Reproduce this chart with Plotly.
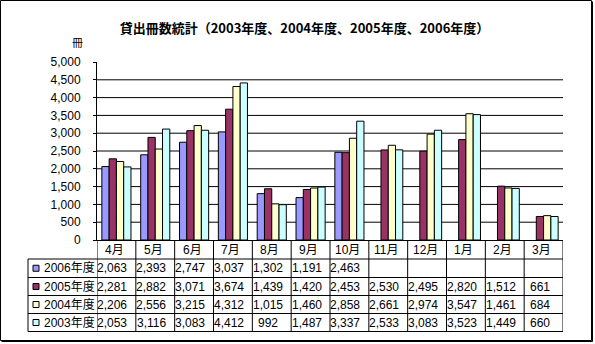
import plotly.graph_objects as go

# ---------------- data ----------------
months = ["4月", "5月", "6月", "7月", "8月", "9月", "10月", "11月", "12月", "1月", "2月", "3月"]
series_names = ["2006年度", "2005年度", "2004年度", "2003年度"]
y2006 = [2063, 2393, 2747, 3037, 1302, 1191, 2463, None, None, None, None, None]
y2005 = [2281, 2882, 3071, 3674, 1439, 1420, 2453, 2530, 2495, 2820, 1512, 661]
y2004 = [2206, 2556, 3215, 4312, 1015, 1460, 2858, 2661, 2974, 3547, 1461, 684]
y2003 = [2053, 3116, 3083, 4412, 992, 1487, 3337, 2533, 3083, 3523, 1449, 660]
colors = ["#9999FF", "#993366", "#FFFFCC", "#CCFFFF"]
y_ticks = [0, 500, 1000, 1500, 2000, 2500, 3000, 3500, 4000, 4500, 5000]
title_text = "貸出冊数統計（2003年度、2004年度、2005年度、2006年度）"
unit_text = "冊"

all_series = [y2006, y2005, y2004, y2003]

# ---------------- layout geometry ----------------
W, H = 595, 344
L, R, T, B = 97, 32, 62, 104
PW, PH = W - L - R, H - T - B
BASE = H - B  # pixel y of the x axis


def px(x):
    return (x - L) / PW


def py(y):
    return (BASE - y) / PH


FONT = "Liberation Sans, Noto Sans CJK JP, sans-serif"

fig = go.Figure()
for name, vals, col in zip(series_names, all_series, colors):
    fig.add_trace(go.Bar(
        x=list(range(len(months))), y=vals, name=name,
        marker=dict(color=col, line=dict(color="black", width=1)),
        hoverinfo="skip",
    ))

shapes = []
annotations = []

# horizontal gridlines (not at top)
for v in y_ticks[1:-1]:
    shapes.append(dict(type="line", xref="paper", yref="y", x0=0, x1=1, y0=v, y1=v,
                       line=dict(color="black", width=1), layer="below"))

# data table geometry
row_edges = [240, 259, 277.5, 295.5, 313.5, 331.5]
leg_left = 28
for ye in row_edges[1:]:
    shapes.append(dict(type="line", xref="paper", yref="paper",
                       x0=px(leg_left), x1=1, y0=py(ye), y1=py(ye),
                       line=dict(color="black", width=1)))
for i in range(len(months) + 1):
    shapes.append(dict(type="line", xref="x", yref="paper",
                       x0=i - 0.5, x1=i - 0.5, y0=py(row_edges[0]), y1=py(row_edges[-1]),
                       line=dict(color="black", width=1)))
shapes.append(dict(type="line", xref="paper", yref="paper",
                   x0=px(leg_left), x1=px(leg_left), y0=py(row_edges[1]), y1=py(row_edges[-1]),
                   line=dict(color="black", width=1)))

# month labels
mid0 = (row_edges[0] + row_edges[1]) / 2
for i, m in enumerate(months):
    annotations.append(dict(x=i, xref="x", y=py(mid0), yref="paper", text=m,
                            showarrow=False, xanchor="center", yanchor="middle", xshift=-2,
                            font=dict(family=FONT, size=12, color="black")))

# value rows and legend keys
for r, (name, vals, col) in enumerate(zip(series_names, all_series, colors)):
    mid = (row_edges[r + 1] + row_edges[r + 2]) / 2
    shapes.append(dict(type="rect", xref="paper", yref="paper",
                       x0=px(33), x1=px(39), y0=py(mid + 3), y1=py(mid - 3),
                       fillcolor=col, line=dict(color="black", width=1)))
    annotations.append(dict(x=px(42), xref="paper", y=py(mid), yref="paper", text=name,
                            showarrow=False, xanchor="left", yanchor="middle",
                            font=dict(family=FONT, size=12, color="black")))
    for i, v in enumerate(vals):
        if v is None:
            continue
        annotations.append(dict(x=i, xref="x", y=py(mid), yref="paper", text=f"{v:,}",
                                showarrow=False, xanchor="center", yanchor="middle", xshift=-4,
                                font=dict(family=FONT, size=12, color="black")))

# unit label
annotations.append(dict(x=px(77), xref="paper", y=py(42), yref="paper", text=unit_text,
                        showarrow=False, xanchor="center", yanchor="middle",
                        font=dict(family="Noto Sans CJK JP", size=11, color="black")))

# outer border
shapes.append(dict(type="rect", xref="paper", yref="paper",
                   x0=px(0.5), x1=px(591.5), y0=py(340.5), y1=py(0.5),
                   line=dict(color="black", width=1)))
shapes.append(dict(type="line", xref="paper", yref="paper",
                   x0=px(592.5), x1=px(592.5), y0=py(341.5), y1=py(1.5),
                   line=dict(color="black", width=1)))
shapes.append(dict(type="line", xref="paper", yref="paper",
                   x0=px(1.5), x1=px(592.5), y0=py(341.5), y1=py(341.5),
                   line=dict(color="black", width=1)))

fig.update_layout(
    width=W, height=H,
    margin=dict(l=L, r=R, t=T, b=B),
    paper_bgcolor="white", plot_bgcolor="white",
    barmode="group", bargap=0.25, bargroupgap=0,
    showlegend=False,
    title=dict(text=f"<b>{title_text}</b>", x=304.5 / W, xref="container", xanchor="center",
               y=1 - 28 / H, yref="container", yanchor="middle",
               font=dict(family="Noto Sans CJK JP", size=13, color="black")),
    xaxis=dict(range=[-0.5, len(months) - 0.5], showticklabels=False, showgrid=False,
               zeroline=False, showline=True, linecolor="black", linewidth=1, ticks=""),
    yaxis=dict(range=[0, 5000], tickvals=y_ticks, tickformat=",d", showgrid=False,
               zeroline=False, showline=True, linecolor="black", linewidth=1,
               ticks="outside", ticklen=3, tickcolor="black", ticklabelstandoff=10,
               tickfont=dict(family=FONT, size=12, color="black")),
    shapes=shapes, annotations=annotations,
)

fig.write_html("out.html")
